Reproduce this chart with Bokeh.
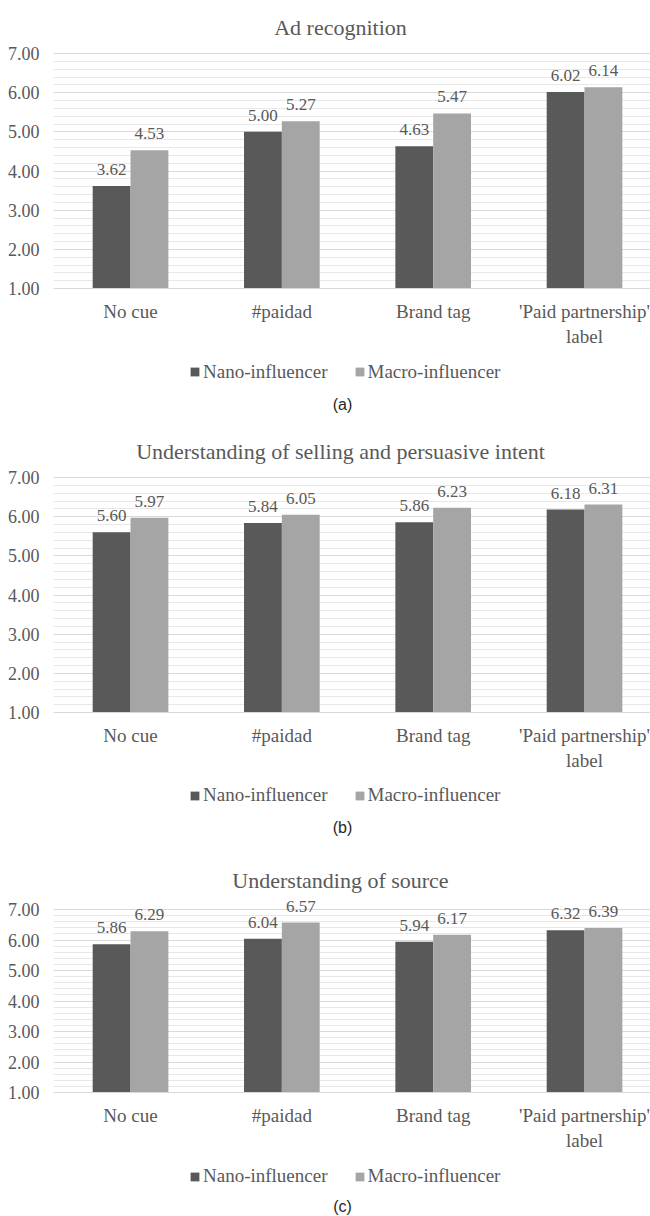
import numpy as np
from bokeh.plotting import figure
from bokeh.models import (Range1d, FixedTicker, NumeralTickFormatter,
                          ColumnDataSource, LabelSet, Label, Legend, LegendItem)
from bokeh.layouts import column
from bokeh.transform import dodge
from bokeh.embed import file_html
from bokeh.resources import INLINE

# ---------------- data ----------------
categories = ["No cue", "#paidad", "Brand tag", "'Paid partnership'\nlabel"]
series_names = ["Nano-influencer", "Macro-influencer"]
titles = ["Ad recognition", "Understanding of selling and persuasive intent", "Understanding of source"]
captions = ["(a)", "(b)", "(c)"]

nano_ad = [3.62, 5.00, 4.63, 6.02]
macro_ad = [4.53, 5.27, 5.47, 6.14]
nano_intent = [5.60, 5.84, 5.86, 6.18]
macro_intent = [5.97, 6.05, 6.23, 6.31]
nano_source = [5.86, 6.04, 5.94, 6.32]
macro_source = [6.29, 6.57, 6.17, 6.39]

y_ticks = [1, 2, 3, 4, 5, 6, 7]

# ---------------- style ----------------
DARK = "#595959"
LIGHT = "#a5a5a5"
TEXT = "#595959"
SERIF = "Liberation Serif"
SANS = "Liberation Sans"

FIG_W = 650
LEFT = 53           # frame left edge (px)
X0, X1 = 0.491, 4.436
XS = (FIG_W - LEFT) / (X1 - X0)


def panel(title, caption, nano, macro, T, H, y7, y1, title_base, legend_mid, caption_mid):
    """T,H: figure top/height in page px; y7,y1: page px of the 7.00 and 1.00 lines."""
    s = (y1 - y7) / (y_ticks[-1] - y_ticks[0])
    y_start = y_ticks[0] - (T + H - y1) / s
    y_end = y_ticks[-1] + (y7 - T) / s

    def py(page_y):
        return y_ticks[0] + (y1 - page_y) / s

    def px(page_x):
        return X0 + (page_x - LEFT) / XS

    xs = list(range(1, len(categories) + 1))
    p = figure(width=FIG_W, height=H,
               x_range=Range1d(X0, X1), y_range=Range1d(y_start, y_end),
               output_backend="svg", toolbar_location=None,
               min_border_left=LEFT, min_border_right=0,
               min_border_top=0, min_border_bottom=0,
               outline_line_color=None, background_fill_color="white",
               border_fill_color="white")

    src = ColumnDataSource(dict(
        x=xs, nano=nano, macro=macro,
        nano_lbl=[f"{v:.2f}" for v in nano],
        macro_lbl=[f"{v:.2f}" for v in macro],
    ))

    # grid (major every 1.00, minor every 0.20)
    yt = FixedTicker(ticks=y_ticks, minor_ticks=list(np.round(np.arange(1.2, 7.0, 0.2), 2)))
    p.yaxis.ticker = yt
    p.ygrid.ticker = yt
    p.ygrid.grid_line_color = "#d9d9d9"
    p.ygrid.minor_grid_line_color = "#e8e8e8"
    p.xgrid.visible = False

    r1 = p.vbar(x=dodge("x", -0.125), top="nano", bottom=y_ticks[0], width=0.25,
                source=src, fill_color=DARK, line_color=None)
    r2 = p.vbar(x=dodge("x", 0.125), top="macro", bottom=y_ticks[0], width=0.25,
                source=src, fill_color=LIGHT, line_color=None)

    for fld, lbl, off in (("nano", "nano_lbl", -0.125), ("macro", "macro_lbl", 0.125)):
        p.add_layout(LabelSet(x=dodge("x", off), y=fld, text=lbl, source=src,
                              text_align="center", text_baseline="alphabetic", y_offset=11,
                              text_font=SERIF, text_font_size="17px", text_color=TEXT))

    # y axis
    p.yaxis.formatter = NumeralTickFormatter(format="0.00")
    p.yaxis.axis_line_color = None
    p.yaxis.major_tick_out = 0
    p.yaxis.major_tick_in = 0
    p.yaxis.minor_tick_out = 0
    p.yaxis.minor_tick_in = 0
    p.yaxis.major_label_standoff = 14
    p.yaxis.major_label_text_font = SERIF
    p.yaxis.major_label_text_font_size = "18px"
    p.yaxis.major_label_text_color = TEXT

    # x axis, fixed at the 1.00 baseline
    p.xaxis.fixed_location = y_ticks[0]
    p.xaxis.ticker = FixedTicker(ticks=xs)
    p.xaxis.major_label_overrides = {x: c for x, c in zip(xs, categories)}
    p.xaxis.axis_line_color = "#d9d9d9"
    p.xaxis.axis_line_width = 1
    p.xaxis.major_tick_out = 0
    p.xaxis.major_tick_in = 0
    p.xaxis.minor_tick_out = 0
    p.xaxis.minor_tick_in = 0
    p.xaxis.major_label_standoff = 12
    p.xaxis.major_label_text_font = SERIF
    p.xaxis.major_label_text_font_size = "19px"
    p.xaxis.major_label_text_color = TEXT

    # title
    p.add_layout(Label(x=px(340), y=py(title_base), text=title,
                       text_align="center", text_baseline="alphabetic",
                       text_font=SERIF, text_font_size="22px", text_color=TEXT))

    # legend
    legend = Legend(items=[LegendItem(label=series_names[0], renderers=[r1]),
                           LegendItem(label=series_names[1], renderers=[r2])],
                    orientation="horizontal",
                    location=(189 - LEFT, (T + H) - (legend_mid + 11)),
                    glyph_width=11, glyph_height=11, label_height=22,
                    label_standoff=3, spacing=26,
                    padding=0, margin=0, border_line_color=None,
                    background_fill_alpha=0,
                    label_text_font=SERIF, label_text_font_size="19px",
                    label_text_color=TEXT)
    p.add_layout(legend)

    # caption
    p.add_layout(Label(x=px(342), y=py(caption_mid), text=caption,
                       text_align="center", text_baseline="middle",
                       text_font=SANS, text_font_size="16px", text_color="#262626"))
    return p


pa = panel(titles[0], captions[0], nano_ad, macro_ad,
           T=0, H=414, y7=53, y1=288, title_base=27, legend_mid=371.5, caption_mid=404)
pb = panel(titles[1], captions[1], nano_intent, macro_intent,
           T=414, H=429, y7=477, y1=712, title_base=451, legend_mid=795, caption_mid=827)
pc = panel(titles[2], captions[2], nano_source, macro_source,
           T=843, H=373, y7=909, y1=1092, title_base=880, legend_mid=1176, caption_mid=1206)

layout = column(pa, pb, pc, spacing=0)

open("out.html", "w").write(file_html(layout, INLINE))
